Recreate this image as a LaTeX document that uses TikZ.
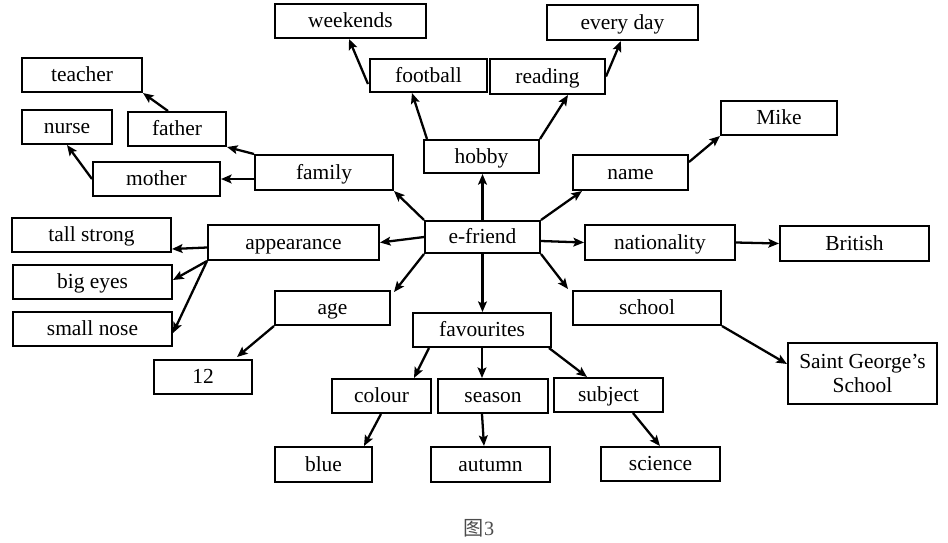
\documentclass[tikz,border=0pt]{standalone}
\usepackage{fontspec}
\setmainfont{Liberation Serif}
\newfontfamily\cjkfont{Noto Sans CJK SC}
\usetikzlibrary{arrows.meta,calc}
\tikzset{
  box/.style={draw, line width=1.15pt, inner sep=0pt, align=center,
    text height=9.4pt, text depth=1.8pt,
    font=\fontsize{12.2}{13.6}\selectfont},
  arr/.style={line width=1.3pt, -{Stealth[length=6pt,width=5pt,inset=1.2pt]}},
}
\newcommand\bx[6]{\node[box, minimum width={(#4-#2)*0.02cm}, minimum height={(#5-#3)*0.02cm}] (#1) at ({(#2+#4)/2},{(#3+#5)/2}) {#6};}
\begin{document}
\begin{tikzpicture}[x=0.02cm, y=-0.02cm]
\useasboundingbox (0,0) rectangle (948,542);
% boxes
\bx{weekends}{275}{4}{426}{38}{weekends}
\bx{everyday}{547}{5}{698}{40}{every day}
\bx{teacher}{22}{58}{142}{92}{teacher}
\bx{football}{370}{59}{487}{92}{football}
\bx{reading}{490}{59}{605}{94}{reading}
\bx{nurse}{22}{110}{112}{144}{nurse}
\bx{father}{128}{112}{226}{146}{father}
\bx{mike}{721}{101}{837}{135}{Mike}
\bx{hobby}{424}{140}{539}{173}{hobby}
\bx{family}{255}{155}{393}{190}{family}
\bx{name}{573}{155}{688}{190}{name}
\bx{mother}{93}{162}{220}{196}{mother}
\bx{tall}{12}{218}{171}{252}{tall strong}
\bx{appearance}{208}{225}{379}{260}{appearance}
\bx{efriend}{425}{221}{540}{253}{e-friend}
\bx{nationality}{585}{225}{735}{260}{nationality}
\bx{british}{780}{226}{929}{261}{British}
\bx{bigeyes}{13}{265}{172}{299}{big eyes}
\bx{age}{275}{291}{390}{325}{age}
\bx{school}{573}{291}{721}{325}{school}
\bx{smallnose}{13}{312}{172}{346}{small nose}
\bx{favourites}{413}{313}{551}{347}{favourites}
\node[box, text height=, text depth=, minimum width={149*0.02cm}, minimum height={61*0.02cm}] (sgs) at (862.5,373.5) {Saint George’s\\School};
\bx{twelve}{154}{360}{252}{394}{12}
\bx{colour}{332}{379}{431}{413}{colour}
\bx{season}{438}{379}{548}{413}{season}
\bx{subject}{554}{378}{663}{412}{subject}
\bx{blue}{275}{447}{372}{482}{blue}
\bx{autumn}{431}{447}{550}{482}{autumn}
\bx{science}{601}{447}{720}{481}{science}
\node[font=\cjkfont\fontsize{11.5}{13}\selectfont, text=black!70, inner sep=0pt] (caption) at (479,528) {图\fontspec{Liberation Serif}3};
% connectors
\draw[arr] (efriend.north) -- (efriend.north |- hobby.south);
\draw[arr] ($(hobby.north west)+(4,0)$) -- ($(football.south west)+(43,0)$);
\draw[arr] ($(football.south west)+(-1,-9)$) -- ($(weekends.south west)+(75,0)$);
\draw[arr] (hobby.north east) -- ($(reading.south west)+(79,0)$);
\draw[arr] (reading.east) -- ($(everyday.south west)+(75,0)$);
\draw[arr] (efriend.north east) -- ($(name.south west)+(10,0)$);
\draw[arr] ($(name.north east)+(0,8)$) -- (mike.south west);
\draw[arr] (efriend.north west) -- (family.south east);
\draw[arr] (family.north west) -- (father.south east);
\draw[arr] (family.west |- mother.east) -- (mother.east);
\draw[arr] (mother.west) -- (nurse.south);
\draw[arr] ($(father.north west)+(41,0)$) -- (teacher.south east);
\draw[arr] (efriend.west) -- (appearance.east);
\draw[arr] ($(appearance.west)+(0,5)$) -- ($(tall.south east)+(0,-4)$);
\draw[arr] (appearance.south west) -- ($(bigeyes.east)+(0,-2)$);
\draw[arr] (appearance.south west) -- ($(smallnose.east)+(0,4)$);
\draw[arr] (efriend.south west) -- ($(age.north east)+(3,2)$);
\draw[arr] (age.south west) -- ($(twelve.north east)+(-16,-2)$);
\draw[arr] ($(efriend.east)+(0,4)$) -- (nationality.west);
\draw[arr] (nationality.east) -- (british.west);
\draw[arr] (efriend.south east) -- ($(school.north west)+(-4,-1)$);
\draw[arr] (school.south east) -- ($(sgs.north west)+(0,22)$);
\draw[arr] (efriend.south) -- (efriend.south |- favourites.north);
\draw[arr] ($(favourites.south west)+(17,0)$) -- ($(colour.north east)+(-18,0)$);
\draw[arr] (favourites.south) -- (favourites.south |- season.north);
\draw[arr] ($(favourites.south east)+(-3,0)$) -- ($(subject.north west)+(34,0)$);
\draw[arr] ($(colour.south west)+(50,0)$) -- ($(blue.north west)+(90,0)$);
\draw[arr] ($(season.south west)+(45,0)$) -- ($(autumn.north west)+(54,0)$);
\draw[arr] ($(subject.south west)+(80,0)$) -- ($(science.north west)+(60,0)$);
\end{tikzpicture}
\end{document}
